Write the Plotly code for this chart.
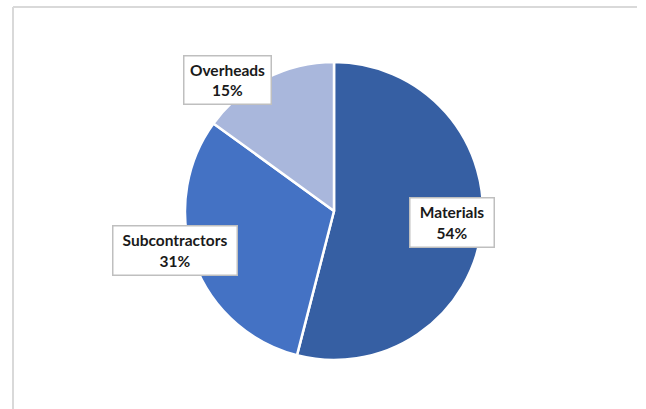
import plotly.graph_objects as go

W, H = 646, 409

categories = ["Materials", "Subcontractors", "Overheads"]
values = [54, 31, 15]
colors = ["#365FA3", "#4472C4", "#A9B7DC"]

# label box centres and sizes (pixels) as placed in the reference
label_pos = {"Materials": (452, 222.5, 86, 51),
             "Subcontractors": (175, 250.5, 126, 51),
             "Overheads": (227, 80, 89, 50)}

cx, cy, r = 334, 211, 149

def px(x):
    return x / W

def py(y):
    return 1 - y / H

fig = go.Figure(go.Pie(
    labels=categories, values=values, sort=False, direction="clockwise",
    rotation=0, textinfo="none", hoverinfo="label+percent",
    marker=dict(colors=colors, line=dict(color="white", width=2.5)),
    domain=dict(x=[px(cx - r), px(cx + r)], y=[py(cy + r), py(cy - r)]),
    showlegend=False,
))

total = sum(values)
annotations = []
for cat, v in zip(categories, values):
    x, y, bw, bh = label_pos[cat]
    annotations.append(dict(
        x=px(x), y=py(y), xref="paper", yref="paper", xanchor="center", yanchor="middle",
        text=f"<b>{cat}<br>{round(100 * v / total)}%</b>", showarrow=False, align="center",
        font=dict(family="Lato, Calibri, sans-serif", size=15.5, color="#1A1A1A"),
        bgcolor="white", bordercolor="#BFBFBF", borderwidth=1.5, borderpad=2,
        width=bw - 7, height=bh - 7,
    ))

shapes = [
    dict(type="line", xref="paper", yref="paper", x0=px(13), x1=px(637), y0=py(7), y1=py(7),
         line=dict(color="#D9D9D9", width=2)),
    dict(type="line", xref="paper", yref="paper", x0=px(13), x1=px(13), y0=py(7), y1=py(409),
         line=dict(color="#D9D9D9", width=2)),
]

fig.update_layout(
    width=W, height=H, margin=dict(l=0, r=0, t=0, b=0),
    paper_bgcolor="white", plot_bgcolor="white",
    annotations=annotations, shapes=shapes,
)

fig.write_html("out.html")
